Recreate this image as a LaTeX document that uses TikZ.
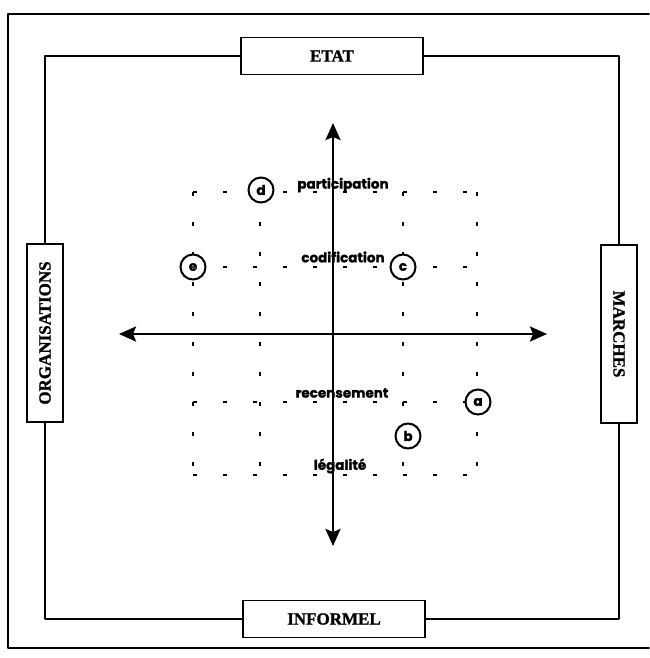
\documentclass[tikz,border=0pt]{standalone}
\usepackage{fontspec}
\usepackage{graphicx}
\setmainfont{Liberation Serif}[BoldFeatures={FakeBold=1.2}]
\newfontfamily\gothic{Poppins}[BoldFeatures={FakeBold=1.5}]
\usetikzlibrary{arrows.meta}
\tikzset{
  frame/.style={line width=1.8pt, line cap=round, line join=round},
  capbox/.style={draw, line width=1.8pt, fill=white, inner sep=0pt,
    font=\fontsize{17}{20}\selectfont\bfseries},
  hbox/.style={capbox, minimum width=182pt, minimum height=37pt},
  vbox/.style={capbox, minimum width=36pt, minimum height=178pt},
  grid/.style={line width=2.2pt, dash pattern=on 4pt off 26pt},
  axis/.style={line width=2.6pt, {Stealth[length=17pt,width=15pt,inset=3pt]}-{Stealth[length=17pt,width=15pt,inset=3pt]}},
  lab/.style={font=\gothic\bfseries\fontsize{13.5}{15}\selectfont, inner sep=0pt},
  pt/.style={circle, draw, line width=2pt, fill=white, minimum size=25pt, inner sep=0pt,
    font=\gothic\bfseries\fontsize{13.5}{15}\selectfont}
}
\begin{document}
\begin{tikzpicture}[x=1pt,y=-1pt]
\useasboundingbox (0,0) rectangle (649,658);
\fill[white] (0,0) rectangle (649,658);
% outer frame
\draw[frame] (649,14) -- (8,14) -- (8,648) -- (649,648);
% boxes
\node[hbox] (etat) at (332,56) {ETAT};
\node[hbox] (informel) at (334,619) {INFORMEL};
\node[vbox] (orgs) at (45,333) {\rotatebox{90}{ORGANISATIONS}};
\node[vbox] (marches) at (619,334) {\rotatebox{-90}{MARCHES}};
% inner square
\draw[frame] (etat.west) -| (orgs.north);
\draw[frame] (orgs.south) |- (informel.west);
\draw[frame] (informel.east) -| (marches.south);
\draw[frame] (marches.north) |- (etat.east);
% dotted grid
\coordinate (g11) at (193,192); \coordinate (g14) at (477,192);
\coordinate (g21) at (193,267); \coordinate (g24) at (477,267);
\coordinate (g31) at (193,402); \coordinate (g34) at (477,402);
\coordinate (g41) at (193,475); \coordinate (g44) at (477,475);
\coordinate (c2t) at (260,192); \coordinate (c2b) at (260,475);
\coordinate (c3t) at (403,192); \coordinate (c3b) at (403,475);
\draw[grid] (g11) -- (g14);
\draw[grid] (g21) -- (g24);
\draw[grid] (g31) -- (g34);
\draw[grid] (g41) -- (g44);
\draw[grid] (g11) -- (g41);
\draw[grid] (c2t) -- (c2b);
\draw[grid] (c3t) -- (c3b);
\draw[grid] (g14) -- (g44);
% axes
\coordinate (vt) at (333,123); \coordinate (vb) at (333,546);
\coordinate (hl) at (119,334); \coordinate (hr) at (547,334);
\draw[axis] (vb) -- (vt);
\draw[axis] (hl) -- (hr);
% labels
\node[lab] (lpart) at (343,185) {participation};
\node[lab] (lcod) at (343,257) {codification};
\node[lab] (lrec) at (342,393) {recensement};
\node[lab] (lleg) at (340,466) {légalité};
% points
\node[pt] (pd) at (261,190) {d};
\node[pt] (pe) at (193,267) {e};
\node[pt] (pc) at (403,267) {c};
\node[pt] (pa) at (478,402) {a};
\node[pt] (pb) at (408,436) {b};
\end{tikzpicture}
\end{document}
